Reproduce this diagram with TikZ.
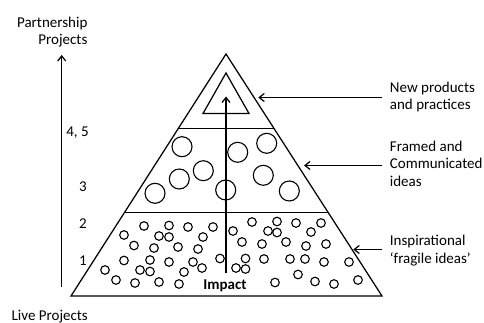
\documentclass[tikz,border=0pt]{standalone}
\usepackage{fontspec}
\setmainfont{Carlito}
\usetikzlibrary{calc,arrows.meta}
\tikzset{every path/.style={black, line width=1.25pt},
  pointer/.style={-{Straight Barb[length=5pt,width=8pt]}},
  idea/.style={line width=1.1pt},
  txt/.style={inner sep=0pt, font=\fontsize{15}{17.5}\selectfont},
  side/.style={txt, inner xsep=7.5pt, anchor=base west, align=left}}

\begin{document}
\begin{tikzpicture}[x=1pt,y=-1pt]
   \useasboundingbox (0,0) rectangle (484,323);
   % pyramid
   \coordinate (apex) at (226,54);
   \coordinate (bl) at (71,296);
   \coordinate (br) at (382,296);
   \draw (apex) -- (bl) -- (br) -- cycle;
   \draw ($(apex)!0.308!(bl)$) -- ($(apex)!0.308!(br)$);
   \draw ($(apex)!0.6550!(bl)$) -- ($(apex)!0.6550!(br)$);
   \coordinate (inapex) at (226,73);
   \coordinate (inbl) at (203,113.5);
   \coordinate (inbr) at (249,113.5);
   \draw (inapex) -- (inbl) -- (inbr) -- cycle;
   % framed ideas
   \foreach \x/\y in {182/146.7, 237.7/152.3, 266.7/143.3, 203.3/170.7, 179.3/179,
                      263.3/175.3, 155/193.3, 225.7/190, 289.3/191}
     \draw[idea] (\x,\y) circle[radius=10];
   % fragile ideas
   \foreach \x/\y in {144/226, 169/225.5, 188/227, 213/227, 124/235, 159/236, 169/237,
                      203/237, 134/245.5, 154/248, 178/247, 198/249, 124/260.5, 150/260,
                      169/262, 193/262, 220/258.5, 105/270, 140/270, 150/271.5, 184/272,
                      202/268, 116/280, 135/283, 159/282, 179/284,
                      233/231, 242/242, 245.5/258.5, 236/268, 245.5/269,
                      252/222, 277/221.5, 296/223, 321/223, 268/231, 277/232.5, 311/232,
                      262/244, 286/242, 306/246, 326/244, 264/259, 290/259, 305/259,
                      324/262, 349/262, 275/282.5, 298/274.5, 315/281.5, 334/284, 358/280}
     \draw[idea] (\x,\y) circle[radius=4.3];
   % impact
   \coordinate (impbot) at (226,273);
   \coordinate (imptop) at (226,96.5);
   \draw[pointer] (impbot) -- (imptop);
   \node[txt, anchor=base, font=\fontsize{15}{17.5}\selectfont\bfseries] (impact) at (225,289) {Impact};
   % left scale
   \coordinate (axisbot) at (61.7,287);
   \coordinate (axistop) at (61.7,55);
   \draw[pointer] (axisbot) -- (axistop);
   \node[txt, anchor=base east, align=right] (partner) at (88,44.8) {Partnership\\Projects};
   \node[txt, anchor=base west] (live) at (11,320.7) {Live Projects};
   \node[txt, anchor=base west] (lvl45) at (65.7,136.7) {4, 5};
   \node[txt, anchor=base] (lvl3) at (83,191.8) {3};
   \node[txt, anchor=base] (lvl2) at (83,228.8) {2};
   \node[txt, anchor=base] (lvl1) at (83,265.2) {1};
   % right labels
   \node[side] (newlbl) at (381.8,109.7) {New products\\and practices};
   \node[side] (framedlbl) at (381.8,186.2) {Framed and\\Communicated\\ideas};
   \node[side] (insplbl) at (381.8,263) {Inspirational\\`fragile ideas'};
   \coordinate (newtip) at (258.3,97.5);
   \coordinate (framedtip) at (304,165.5);
   \coordinate (insptip) at (353.3,249.5);
   \draw[pointer] (newlbl.west |- newtip) -- (newtip);
   \draw[pointer] (framedlbl.west |- framedtip) -- (framedtip);
   \draw[pointer] (insplbl.west |- insptip) -- (insptip);
\end{tikzpicture}
\end{document}
